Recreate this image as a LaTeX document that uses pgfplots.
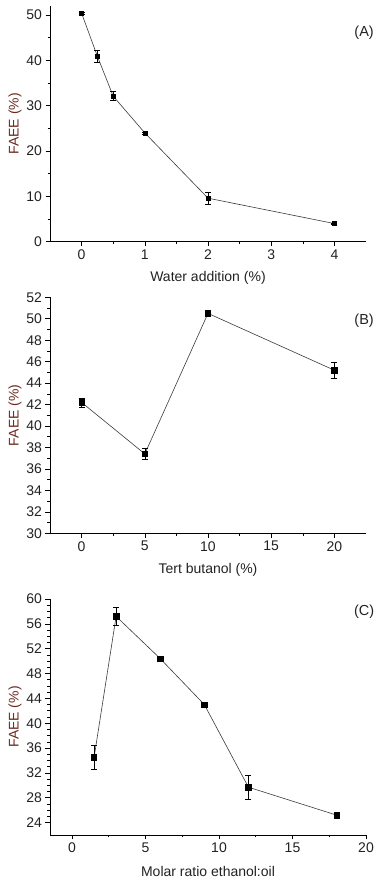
\documentclass[border=0pt]{standalone}
\usepackage{fontspec}
\setmainfont{Liberation Sans}
\usepackage{pgfplots}
\pgfplotsset{compat=1.18}
\definecolor{txt}{HTML}{222222}
\definecolor{ylab}{HTML}{6A2A20}
\definecolor{ln}{HTML}{3A3A3A}
\pgfplotsset{
  panel/.style={
    scale only axis, width=316pt,
    axis lines*=left,
    tick align=outside,
    major tick length=4.5pt, minor tick length=2.5pt,
    every tick/.style={black, line width=0.6pt},
    axis line style={black, line width=0.7pt},
    /pgf/number format/assume math mode=true,
    tick label style={font=\fontsize{14}{16}\selectfont, text=txt},
    label style={font=\fontsize{14}{16}\selectfont},
    xlabel style={text=txt, at={(axis description cs:0.5,-0.153)}, anchor=center},
    ylabel style={text=ylab, at={(axis description cs:-0.111,0.5)}, anchor=center},
    ylabel={FAEE (\%)},
    clip=false,
  },
  dat/.style={ln, line width=0.6pt, mark=square*, mark options={fill=black, draw=black},
    error bars/y dir=both, error bars/y explicit,
    error bars/error bar style={black, line width=0.6pt},
    error bars/error mark options={rotate=90, mark size=3pt, line width=0.6pt, black}},
}
\begin{document}
\begin{tikzpicture}[x=1pt,y=1pt]
\path[use as bounding box] (0,0) rectangle (388,885);
% Panel A
\begin{axis}[panel, at={(50pt,643.3pt)}, anchor=south west, height=235.7pt,
  xmin=-0.5, xmax=4.5, ymin=0, ymax=52,
  xtick={0,1,2,3,4}, minor x tick num=1,
  ytick={0,10,20,30,40,50}, minor y tick num=1,
  xlabel={Water addition (\%)}]
\addplot+[dat, mark size=2pt] table[x=x, y=y, y error=e] {
x y e
0 50.4 0.3
0.25 40.9 1.4
0.5 32.1 1.0
1 24.0 0.2
2 9.6 1.3
4 4.0 0.15
};
\node[font=\fontsize{14.5}{16}\selectfont, text=txt] at (rel axis cs:0.994,0.885) {(A)};
\end{axis}
% Panel B
\begin{axis}[panel, at={(50pt,351.7pt)}, anchor=south west, height=236pt,
  xmin=-2.5, xmax=22.5, ymin=30, ymax=52,
  xtick={0,5,10,15,20}, minor x tick num=1,
  ytick={30,32,...,52}, minor y tick num=1,
  xlabel={Tert butanol (\%)}]
\addplot+[dat, mark size=2.7pt] table[x=x, y=y, y error=e] {
x y e
0 42.2 0.42
5 37.4 0.48
10 50.5 0.2
20 45.2 0.75
};
\node[font=\fontsize{14.5}{16}\selectfont, text=txt] at (rel axis cs:0.994,0.9) {(B)};
\end{axis}
% Panel C
\begin{axis}[panel, at={(50pt,50pt)}, anchor=south west, height=236pt,
  xmin=-1.5, xmax=20, ymin=22, ymax=60,
  xtick={0,5,10,15,20}, minor x tick num=1,
  ytick={24,28,...,60}, minor y tick num=3,
  xlabel={Molar ratio ethanol:oil}]
\addplot+[dat, mark size=2.7pt] table[x=x, y=y, y error=e] {
x y e
1.5 34.5 1.9
3 57.2 1.4
6 50.4 0.2
9 43.0 0.4
12 29.7 1.9
18 25.2 0.35
};
\node[font=\fontsize{14.5}{16}\selectfont, text=txt] at (rel axis cs:0.994,0.947) {(C)};
\end{axis}
\end{tikzpicture}
\end{document}
